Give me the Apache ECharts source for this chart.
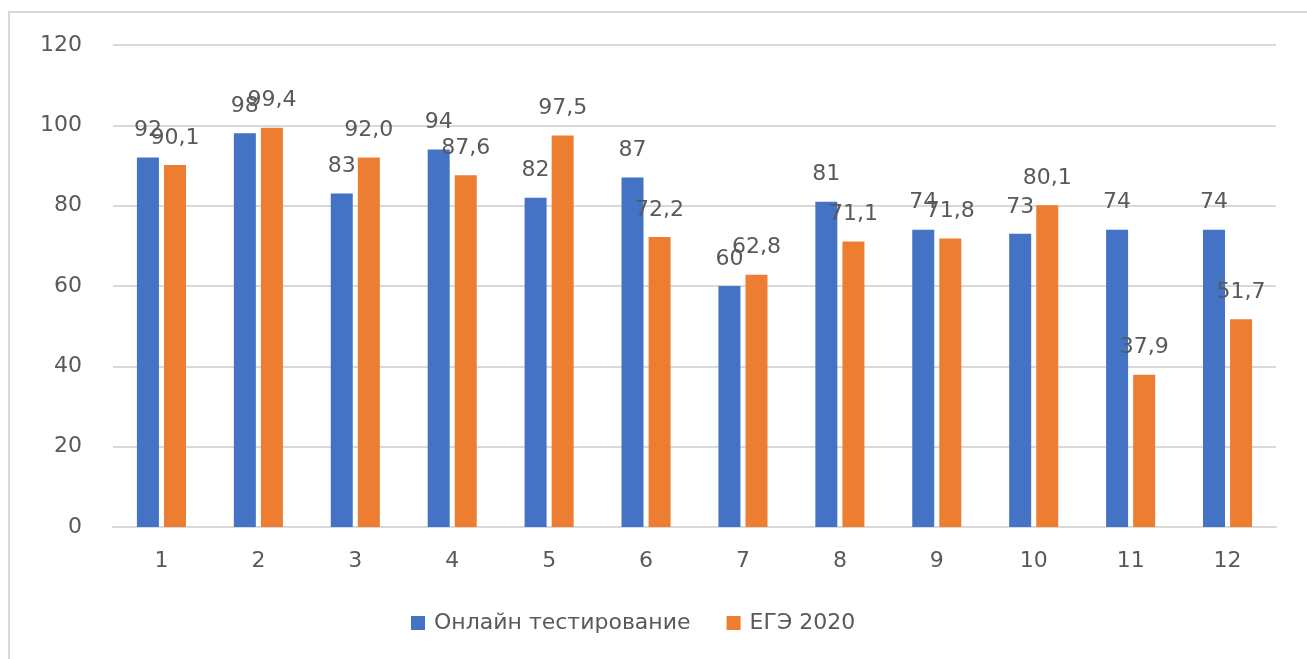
<!DOCTYPE html>
<html>
<head>
<meta charset="utf-8">
<script src="https://cdn.jsdelivr.net/npm/echarts@6/dist/echarts.min.js"></script>
<style>
    html, body { margin: 0; padding: 0; background: #fff; }
    #main { width: 1307px; height: 659px; }
</style>
</head>
<body>
<div id="main"></div>
<script>
const categories = ['1', '2', '3', '4', '5', '6', '7', '8', '9', '10', '11', '12']
const onlineTest = [92, 98, 83, 94, 82, 87, 60, 81, 74, 73, 74, 74]
const ege2020 = [90.1, 99.4, 92.0, 87.6, 97.5, 72.2, 62.8, 71.1, 71.8, 80.1, 37.9, 51.7]
const seriesNames = ['Онлайн тестирование', 'ЕГЭ 2020']

var myChart = echarts.init(document.getElementById('main'));

const textColor = '#595959'
const font = 'DejaVu Sans'

option = {
    animation: false,
    textStyle: { fontFamily: font },
    graphic: [{
        type: 'rect',
        shape: { x: 9, y: 12, width: 1400, height: 700 },
        style: { fill: 'none', stroke: '#d9d9d9', lineWidth: 2 },
        silent: true
    }],
    legend: {
        data: seriesNames,
        left: 406,
        top: 607,
        icon: 'rect',
        itemWidth: 14,
        itemHeight: 14,
        itemGap: 36,
        textStyle: { color: textColor, fontSize: 22, fontFamily: font, padding: [0, 0, 0, 4] }
    },
    grid: {
        left: 113,
        right: 31,
        top: 45,
        bottom: 132,
        containLabel: false
    },
    xAxis: {
        type: 'category',
        data: categories,
        axisLine: { lineStyle: { color: '#d9d9d9', width: 2 } },
        axisTick: { show: false },
        axisLabel: { color: textColor, fontSize: 22, fontFamily: font, margin: 23 }
    },
    yAxis: {
        type: 'value',
        min: 0,
        max: 120,
        interval: 20,
        axisLine: { show: false },
        axisTick: { show: false },
        axisLabel: { color: textColor, fontSize: 22, fontFamily: font, margin: 31 },
        splitLine: { lineStyle: { color: '#d9d9d9', width: 2 } }
    },
    series: [{
        name: seriesNames[0],
        type: 'bar',
        data: onlineTest,
        barWidth: 22,
        barGap: '23%',
        itemStyle: { color: '#4472C4' },
        label: {
            show: true,
            position: 'top',
            distance: 16,
            color: textColor,
            fontSize: 22,
            fontFamily: font
        }
    }, {
        name: seriesNames[1],
        type: 'bar',
        data: ege2020,
        barWidth: 22,
        itemStyle: { color: '#ED7D31' },
        label: {
            show: true,
            position: 'top',
            distance: 16,
            color: textColor,
            fontSize: 22,
            fontFamily: font,
            formatter: function (p) {
                return p.value.toFixed(1).replace('.', ',')
            }
        }
    }]
};

myChart.setOption(option);
</script>
</body>
</html>
